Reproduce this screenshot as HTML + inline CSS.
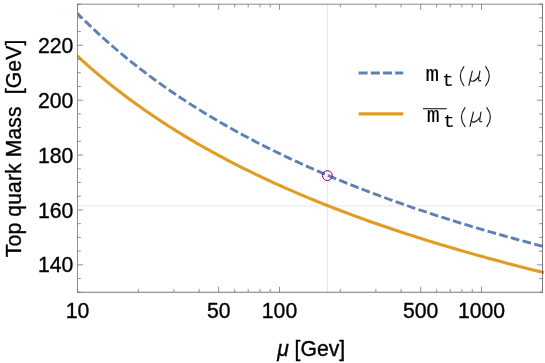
<!DOCTYPE html>
<html><head><meta charset="utf-8"><style>
html,body{margin:0;padding:0;background:#fff;}
svg{display:block;font-family:"Liberation Sans",sans-serif;fill:#000;}
svg text{stroke:#000;stroke-width:0.35px;}
svg .lg text{stroke-width:0.1px;}
</style></head><body>
<svg width="545" height="363" viewBox="0 0 545 363" style="will-change:transform">
<rect width="545" height="363" fill="#fff"/>
<defs><clipPath id="cp"><rect x="77.2" y="4.2" width="467.3" height="288.05"/></clipPath></defs>
<line x1="327.38" y1="4.2" x2="327.38" y2="292.25" stroke="#e6e6e6" stroke-width="1"/>
<line x1="77.5" y1="205.9" x2="542.5" y2="205.9" stroke="#e6e6e6" stroke-width="1"/>
<path d="M77.00,12.95 L79.94,15.92 L82.87,18.84 L85.81,21.72 L88.75,24.56 L91.69,27.36 L94.62,30.13 L97.56,32.86 L100.50,35.56 L103.43,38.22 L106.37,40.84 L109.31,43.44 L112.25,46.00 L115.18,48.52 L118.12,51.02 L121.06,53.49 L123.99,55.92 L126.93,58.33 L129.87,60.71 L132.81,63.06 L135.74,65.38 L138.68,67.67 L141.62,69.94 L144.55,72.18 L147.49,74.40 L150.43,76.59 L153.36,78.75 L156.30,80.90 L159.24,83.01 L162.18,85.11 L165.11,87.18 L168.05,89.23 L170.99,91.26 L173.92,93.26 L176.86,95.25 L179.80,97.21 L182.74,99.15 L185.67,101.07 L188.61,102.98 L191.55,104.86 L194.48,106.72 L197.42,108.57 L200.36,110.39 L203.30,112.20 L206.23,113.99 L209.17,115.76 L212.11,117.52 L215.04,119.25 L217.98,120.97 L220.92,122.68 L223.86,124.37 L226.79,126.04 L229.73,127.69 L232.67,129.34 L235.60,130.96 L238.54,132.57 L241.48,134.17 L244.42,135.75 L247.35,137.31 L250.29,138.87 L253.23,140.40 L256.16,141.93 L259.10,143.44 L262.04,144.94 L264.97,146.42 L267.91,147.89 L270.85,149.35 L273.79,150.80 L276.72,152.23 L279.66,153.65 L282.60,155.06 L285.53,156.46 L288.47,157.85 L291.41,159.22 L294.35,160.58 L297.28,161.93 L300.22,163.27 L303.16,164.60 L306.09,165.92 L309.03,167.23 L311.97,168.53 L314.91,169.82 L317.84,171.09 L320.78,172.36 L323.72,173.62 L326.65,174.86 L329.59,176.10 L332.53,177.33 L335.47,178.55 L338.40,179.76 L341.34,180.96 L344.28,182.15 L347.21,183.33 L350.15,184.50 L353.09,185.67 L356.03,186.82 L358.96,187.97 L361.90,189.11 L364.84,190.24 L367.77,191.36 L370.71,192.47 L373.65,193.58 L376.58,194.67 L379.52,195.76 L382.46,196.85 L385.40,197.92 L388.33,198.99 L391.27,200.05 L394.21,201.10 L397.14,202.14 L400.08,203.18 L403.02,204.21 L405.96,205.23 L408.89,206.25 L411.83,207.26 L414.77,208.26 L417.70,209.26 L420.64,210.25 L423.58,211.23 L426.52,212.20 L429.45,213.17 L432.39,214.14 L435.33,215.09 L438.26,216.04 L441.20,216.99 L444.14,217.93 L447.08,218.86 L450.01,219.78 L452.95,220.70 L455.89,221.62 L458.82,222.53 L461.76,223.43 L464.70,224.33 L467.64,225.22 L470.57,226.10 L473.51,226.99 L476.45,227.86 L479.38,228.73 L482.32,229.59 L485.26,230.45 L488.19,231.31 L491.13,232.16 L494.07,233.00 L497.01,233.84 L499.94,234.67 L502.88,235.50 L505.82,236.32 L508.75,237.14 L511.69,237.95 L514.63,238.76 L517.57,239.57 L520.50,240.37 L523.44,241.16 L526.38,241.95 L529.31,242.74 L532.25,243.52 L535.19,244.30 L538.13,245.07 L541.06,245.84 L544.00,246.60" fill="none" stroke="#5e81b5" stroke-width="2.9" stroke-dasharray="8.7 3.378" stroke-dashoffset="0.9" clip-path="url(#cp)"/>
<path d="M77.00,55.74 L79.94,58.44 L82.87,61.10 L85.81,63.72 L88.75,66.32 L91.69,68.88 L94.62,71.40 L97.56,73.90 L100.50,76.36 L103.43,78.80 L106.37,81.20 L109.31,83.57 L112.25,85.92 L115.18,88.23 L118.12,90.52 L121.06,92.78 L123.99,95.02 L126.93,97.23 L129.87,99.41 L132.81,101.57 L135.74,103.71 L138.68,105.81 L141.62,107.90 L144.55,109.96 L147.49,112.00 L150.43,114.02 L153.36,116.02 L156.30,117.99 L159.24,119.94 L162.18,121.88 L165.11,123.79 L168.05,125.68 L170.99,127.55 L173.92,129.40 L176.86,131.23 L179.80,133.05 L182.74,134.84 L185.67,136.62 L188.61,138.38 L191.55,140.12 L194.48,141.85 L197.42,143.56 L200.36,145.25 L203.30,146.92 L206.23,148.58 L209.17,150.22 L212.11,151.85 L215.04,153.46 L217.98,155.06 L220.92,156.64 L223.86,158.21 L226.79,159.76 L229.73,161.29 L232.67,162.82 L235.60,164.33 L238.54,165.82 L241.48,167.31 L244.42,168.78 L247.35,170.23 L250.29,171.68 L253.23,173.11 L256.16,174.53 L259.10,175.93 L262.04,177.33 L264.97,178.71 L267.91,180.08 L270.85,181.44 L273.79,182.79 L276.72,184.12 L279.66,185.45 L282.60,186.76 L285.53,188.06 L288.47,189.36 L291.41,190.64 L294.35,191.91 L297.28,193.17 L300.22,194.42 L303.16,195.66 L306.09,196.89 L309.03,198.12 L311.97,199.33 L314.91,200.53 L317.84,201.72 L320.78,202.91 L323.72,204.08 L326.65,205.25 L329.59,206.40 L332.53,207.55 L335.47,208.69 L338.40,209.82 L341.34,210.94 L344.28,212.06 L347.21,213.16 L350.15,214.26 L353.09,215.35 L356.03,216.43 L358.96,217.51 L361.90,218.57 L364.84,219.63 L367.77,220.68 L370.71,221.72 L373.65,222.76 L376.58,223.79 L379.52,224.81 L382.46,225.82 L385.40,226.83 L388.33,227.83 L391.27,228.82 L394.21,229.81 L397.14,230.79 L400.08,231.76 L403.02,232.73 L405.96,233.69 L408.89,234.64 L411.83,235.59 L414.77,236.53 L417.70,237.46 L420.64,238.39 L423.58,239.31 L426.52,240.23 L429.45,241.14 L432.39,242.04 L435.33,242.94 L438.26,243.83 L441.20,244.72 L444.14,245.60 L447.08,246.48 L450.01,247.35 L452.95,248.21 L455.89,249.07 L458.82,249.93 L461.76,250.77 L464.70,251.62 L467.64,252.46 L470.57,253.29 L473.51,254.12 L476.45,254.94 L479.38,255.76 L482.32,256.57 L485.26,257.38 L488.19,258.18 L491.13,258.98 L494.07,259.77 L497.01,260.56 L499.94,261.34 L502.88,262.12 L505.82,262.90 L508.75,263.67 L511.69,264.44 L514.63,265.20 L517.57,265.95 L520.50,266.71 L523.44,267.46 L526.38,268.20 L529.31,268.94 L532.25,269.67 L535.19,270.41 L538.13,271.13 L541.06,271.86 L544.00,272.58" fill="none" stroke="#e19c24" stroke-width="3.1" clip-path="url(#cp)"/>
<circle cx="327.38" cy="175.6" r="4.9" fill="none" stroke="#800080" stroke-width="1"/>
<path d="M77.5,292.65V3.85" fill="none" stroke="#757575" stroke-width="0.8"/>
<path d="M77.1,4.2H542.9" fill="none" stroke="#666" stroke-width="0.75"/>
<path d="M542.5,3.85V292.65" fill="none" stroke="#585858" stroke-width="0.8"/>
<path d="M77.1,292.25H542.9" fill="none" stroke="#585858" stroke-width="0.8"/>
<path d="M77.5,292.29h3.3 M542.5,292.29h-3.3 M77.5,278.57h3.3 M542.5,278.57h-3.3 M77.5,264.85h5.6 M542.5,264.85h-5.6 M77.5,251.13h3.3 M542.5,251.13h-3.3 M77.5,237.41h3.3 M542.5,237.41h-3.3 M77.5,223.68h3.3 M542.5,223.68h-3.3 M77.5,209.96h5.6 M542.5,209.96h-5.6 M77.5,196.24h3.3 M542.5,196.24h-3.3 M77.5,182.52h3.3 M542.5,182.52h-3.3 M77.5,168.80h3.3 M542.5,168.80h-3.3 M77.5,155.07h5.6 M542.5,155.07h-5.6 M77.5,141.35h3.3 M542.5,141.35h-3.3 M77.5,127.63h3.3 M542.5,127.63h-3.3 M77.5,113.91h3.3 M542.5,113.91h-3.3 M77.5,100.19h5.6 M542.5,100.19h-5.6 M77.5,86.46h3.3 M542.5,86.46h-3.3 M77.5,72.74h3.3 M542.5,72.74h-3.3 M77.5,59.02h3.3 M542.5,59.02h-3.3 M77.5,45.30h5.6 M542.5,45.30h-5.6 M77.5,31.58h3.3 M542.5,31.58h-3.3 M77.5,17.85h3.3 M542.5,17.85h-3.3 M77.5,4.13h3.3 M542.5,4.13h-3.3 M77.50,292.25v-5.6 M77.50,4.2v5.6 M138.31,292.25v-3.3 M138.31,4.2v3.3 M173.88,292.25v-3.3 M173.88,4.2v3.3 M199.12,292.25v-3.3 M199.12,4.2v3.3 M218.69,292.25v-5.6 M218.69,4.2v5.6 M234.69,292.25v-3.3 M234.69,4.2v3.3 M248.21,292.25v-3.3 M248.21,4.2v3.3 M259.92,292.25v-3.3 M259.92,4.2v3.3 M270.26,292.25v-3.3 M270.26,4.2v3.3 M279.50,292.25v-5.6 M279.50,4.2v5.6 M340.31,292.25v-3.3 M340.31,4.2v3.3 M375.88,292.25v-3.3 M375.88,4.2v3.3 M401.12,292.25v-3.3 M401.12,4.2v3.3 M420.69,292.25v-5.6 M420.69,4.2v5.6 M436.69,292.25v-3.3 M436.69,4.2v3.3 M450.21,292.25v-3.3 M450.21,4.2v3.3 M461.92,292.25v-3.3 M461.92,4.2v3.3 M472.26,292.25v-3.3 M472.26,4.2v3.3 M481.50,292.25v-5.6 M481.50,4.2v5.6 M542.31,292.25v-3.3 M542.31,4.2v3.3" fill="none" stroke="#757575" stroke-width="0.8"/>
<text x="73.3" y="272.40" text-anchor="end" font-size="21.2">140</text>
<text x="73.3" y="217.51" text-anchor="end" font-size="21.2">160</text>
<text x="73.3" y="162.62" text-anchor="end" font-size="21.2">180</text>
<text x="73.3" y="107.74" text-anchor="end" font-size="21.2">200</text>
<text x="73.3" y="52.85" text-anchor="end" font-size="21.2">220</text>
<text x="77.50" y="317.7" text-anchor="middle" font-size="21.2">10</text>
<text x="218.69" y="317.7" text-anchor="middle" font-size="21.2">50</text>
<text x="279.50" y="317.7" text-anchor="middle" font-size="21.2">100</text>
<text x="420.69" y="317.7" text-anchor="middle" font-size="21.2">500</text>
<text x="481.50" y="317.7" text-anchor="middle" font-size="21.2">1000</text>
<text x="311.2" y="355.7" text-anchor="middle" font-size="21.2"><tspan font-style="italic">μ</tspan> [Gev]</text>
<text transform="translate(21.1,148.4) rotate(-90)" text-anchor="middle" font-size="21.2" letter-spacing="0.1" xml:space="preserve">Top quark Mass  [GeV]</text>
<line x1="358.6" y1="73.0" x2="403.2" y2="73.0" stroke="#5e81b5" stroke-width="3.2" stroke-dasharray="9 3.2"/>
<line x1="358.6" y1="113.95" x2="403.2" y2="113.95" stroke="#e19c24" stroke-width="3.2"/>
<g class="lg"><text x="425.5" y="81.4" font-family="Liberation Mono"  font-size="22.6">m</text><text x="442.2" y="85.8" font-family="Liberation Mono"  font-size="19">t</text><g fill="none" stroke="#1a1a1a" stroke-width="1.15" stroke-linecap="round" stroke-linejoin="round"><path d="M463.9,66.7 Q456.7,76.2 463.9,85.7"/><path d="M485.7,66.7 Q492.9,76.2 485.7,85.7"/><path d="M472.3,71.1 L468.9,85.4"/><path d="M470.2,79.3 C470.3,82.0 474.6,82.6 478.4,76.9"/><path d="M479.9,71.1 L478.6,79.0 Q478.3,81.6 480.7,80.6"/></g></g>
<g class="lg" transform="translate(1.1,40.9)"><text x="425.6" y="81.4" font-family="Liberation Mono"  font-size="21.6">m</text><text x="442.2" y="85.8" font-family="Liberation Mono"  font-size="19">t</text><g fill="none" stroke="#1a1a1a" stroke-width="1.15" stroke-linecap="round" stroke-linejoin="round"><path d="M463.9,66.7 Q456.7,76.2 463.9,85.7"/><path d="M485.7,66.7 Q492.9,76.2 485.7,85.7"/><path d="M472.3,71.1 L468.9,85.4"/><path d="M470.2,79.3 C470.3,82.0 474.6,82.6 478.4,76.9"/><path d="M479.9,71.1 L478.6,79.0 Q478.3,81.6 480.7,80.6"/></g></g>
<line x1="423.0" y1="108.7" x2="446.8" y2="108.7" stroke="#1a1a1a" stroke-width="1.1"/>
</svg>
</body></html>
